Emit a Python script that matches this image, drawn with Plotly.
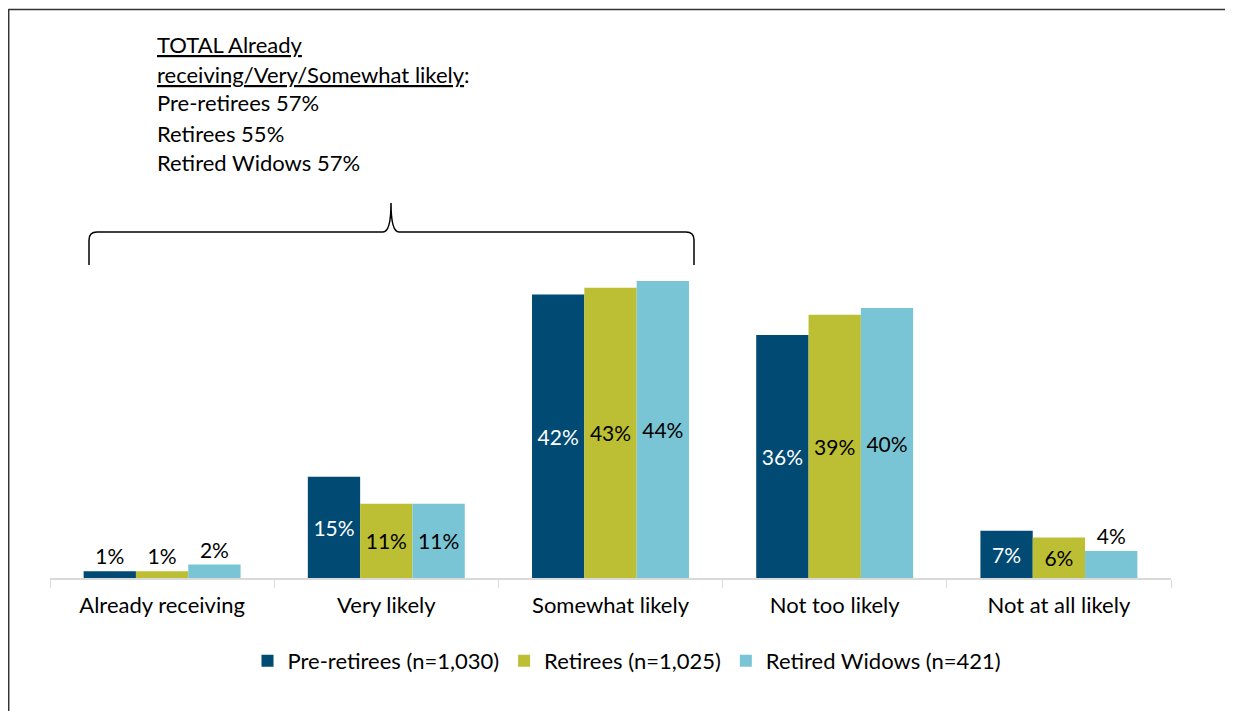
import plotly.graph_objects as go

# survey answers, percent of each group
categories = ["Already receiving", "Very likely", "Somewhat likely", "Not too likely", "Not at all likely"]
pre_retirees = [1, 15, 42, 36, 7]
retirees = [1, 11, 43, 39, 6]
widows = [2, 11, 44, 40, 4]

series_names = ["Pre-retirees (n=1,030)", "Retirees (n=1,025)", "Retired Widows (n=421)"]
note_title = ["TOTAL Already", "receiving/Very/Somewhat likely"]
note_lines = ["Pre-retirees 57%", "Retirees 55%", "Retired Widows 57%"]

FONT = "Lato"
colors = ["#004A73", "#BCBF33", "#7AC5D5"]
inside_color = ["white", "black", "black"]

# the page puts the figure 8px in from the top-left corner,
# so layout is worked out in page pixels and shifted back
OFF = 8
W, H = 1233, 711
PL, PR, PT, PB = 50, 1171, 38, 578     # plot area in page pixels
L, T = PL - OFF, PT - OFF
R = W - (PR - OFF)
B = H - (PB - OFF)
PW, PH = PR - PL, PB - PT


def px(x):
    return (x - PL) / PW


def py(y):
    return (PB - y) / PH


fig = go.Figure()
for name, vals, col, tc in zip(series_names, [pre_retirees, retirees, widows], colors, inside_color):
    pos = ["outside" if v < 5 else "inside" for v in vals]
    tcol = [tc if p == "inside" else "black" for p in pos]
    fig.add_trace(go.Bar(
        x=categories, y=vals, name=name,
        marker=dict(color=col, line=dict(width=0)),
        text=[f"{v}%" for v in vals],
        textposition=pos, textangle=0,
        insidetextanchor="middle",
        textfont=dict(family=FONT, size=21, color=tcol),
        cliponaxis=False,
    ))

# bracket over the first three categories
x0, xm, x1 = px(89), px(391), px(694)
yb, yh, yt = py(265), py(232), py(203)
dx = 8 / PW
dy = 8 / PH
path = (f"M {x0},{yb} L {x0},{yh - dy} Q {x0},{yh} {x0 + dx},{yh} "
        f"L {xm - dx},{yh} Q {xm},{yh} {xm},{yt} Q {xm},{yh} {xm + dx},{yh} "
        f"L {x1 - dx},{yh} Q {x1},{yh} {x1},{yh - dy} L {x1},{yb}")
shapes = [dict(type="path", path=path, xref="paper", yref="paper",
               line=dict(color="black", width=1.5))]

# frame lines
shapes.append(dict(type="line", xref="paper", yref="paper", x0=px(8.5), x1=px(1232), y0=py(9.5), y1=py(9.5),
                   line=dict(color="#333333", width=1.5)))
shapes.append(dict(type="line", xref="paper", yref="paper", x0=px(8.7), x1=px(8.7), y0=py(9), y1=py(725),
                   line=dict(color="#333333", width=1.5)))
shapes.append(dict(type="line", xref="paper", yref="paper", x0=px(1232), x1=px(1232), y0=py(9), y1=py(725),
                   line=dict(color="#DDDDDD", width=1)))

annotations = []
ys = [45, 74, 103, 133, 162]
texts = [f"<u>{note_title[0]}</u>", f"<u>{note_title[1]}</u>:"] + note_lines
for t, y in zip(texts, ys):
    annotations.append(dict(text=t, xref="paper", yref="paper", x=px(155), y=py(y),
                            xanchor="left", yanchor="middle", showarrow=False,
                            font=dict(family=FONT, size=22, color="black")))

fig.update_layout(
    width=W, height=H,
    margin=dict(l=L, r=R, t=T, b=B),
    paper_bgcolor="white", plot_bgcolor="white",
    barmode="group", bargap=0.30, bargroupgap=0,
    font=dict(family=FONT, size=20, color="black"),
    xaxis=dict(showline=True, linecolor="#D9D9D9", linewidth=1.5,
               ticks="outside", tickson="boundaries", ticklen=8, tickcolor="#D9D9D9",
               ticklabelstandoff=7,
               tickfont=dict(family=FONT, size=22, color="black"), showgrid=False),
    yaxis=dict(range=[0, 80], visible=False, showgrid=False),
    legend=dict(orientation="h", x=px(627), xanchor="center", y=py(661), yanchor="middle",
                font=dict(family=FONT, size=22, color="black"), traceorder="normal",
                itemwidth=30),
    showlegend=True,
    shapes=shapes, annotations=annotations,
)

fig.write_html("out.html")
